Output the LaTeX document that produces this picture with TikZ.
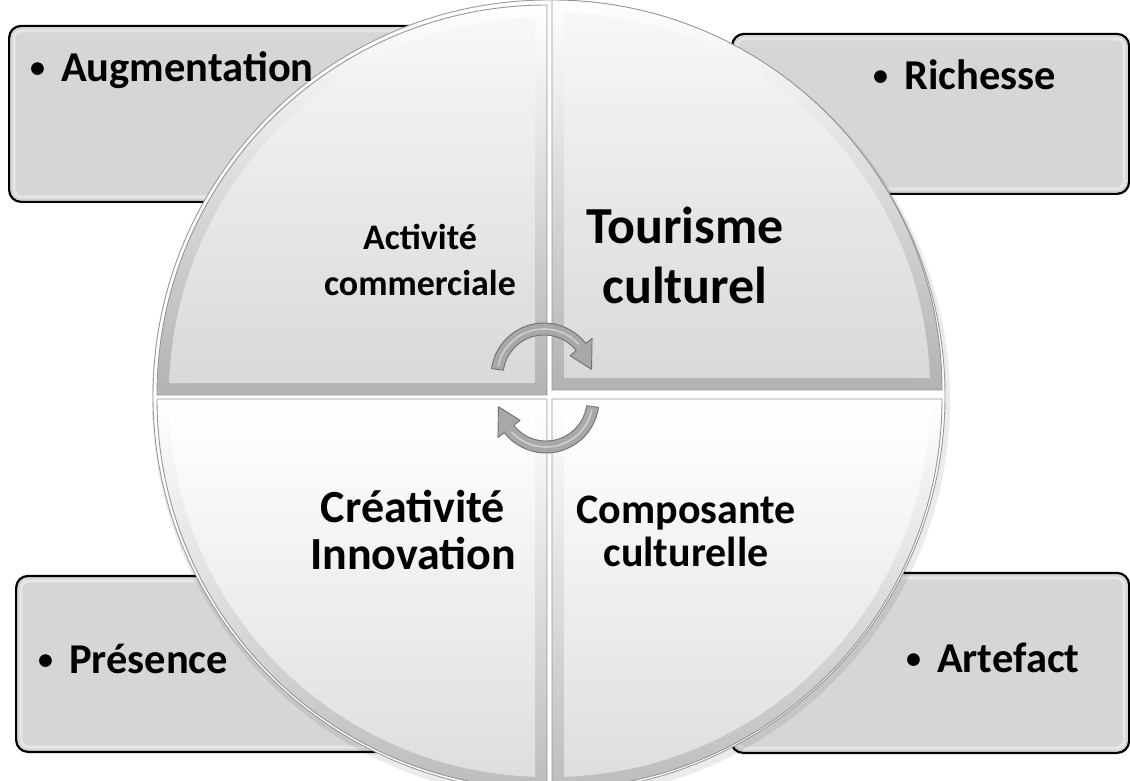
\documentclass[tikz,border=0pt]{standalone}
\usepackage{fontspec}
\setmainfont{Carlito}
\usetikzlibrary{calc}
\definecolor{boxgray}{RGB}{214,214,214}
\definecolor{arrowgray}{RGB}{168,168,168}
\definecolor{arrowedge}{RGB}{112,112,112}
\definecolor{qedge}{RGB}{150,150,150}
\newcommand\quadsector[4]{%
  \path[#3] (#1) -- ($(#1)+(#2:390)$) arc[start angle=#2, end angle=#2+90, radius=390] -- cycle;
  \path[#4] ($(#1)+(#2+45:17)$) -- ($(#1)+(#2+1.82:378)$) arc[start angle=#2+1.82, end angle=#2+88.18, radius=378] -- cycle;
  \draw[qline] (#1) -- ($(#1)+(#2:390)$) arc[start angle=#2, end angle=#2+90, radius=390] -- cycle;
}
\newcommand\cycarrow[2]{%
  \path[cyc] ($(#1)+(172+#2:53)$) arc[start angle=172+#2, end angle=38+#2, radius=53]
    -- ($(#1)+(38+#2:61)$) -- ($(#1)+(8+#2:48)$) -- ($(#1)+(38+#2:33)$) -- ($(#1)+(38+#2:41)$)
    arc[start angle=38+#2, end angle=172+#2, radius=41] -- cycle;
  \draw[cychl] ($(#1)+(168+#2:47)$) arc[start angle=168+#2, end angle=42+#2, radius=47];
}
\newcommand\bul{{\fontsize{30}{30}\selectfont\raisebox{4pt}{\textbullet}}\hspace{16pt}}
\begin{document}
\begin{tikzpicture}[x=1pt,y=1pt,
  box/.style={draw=black, line width=2.2pt, fill=boxgray, rounded corners=12pt, inner sep=0pt, anchor=south west},
  boxhl/.style={draw=white, draw opacity=0.4, line width=3pt, rounded corners=8pt},
  btxt/.style={font=\fontsize{42.5}{50}\selectfont\bfseries, inner sep=0pt, anchor=base west},
  ql/.style={inner sep=0pt, anchor=base},
  qline/.style={draw=qedge, line width=0.9pt},
  ringtop/.style={top color=white, bottom color=black!30},
  innertop/.style={top color=black!3, bottom color=black!15},
  ringbot/.style={top color=white, bottom color=black!26},
  innerbot/.style={top color=white, bottom color=black!13},
  cyc/.style={fill=arrowgray, draw=arrowedge, line width=0.9pt, line join=round},
  cychl/.style={draw=white, draw opacity=0.45, line width=1.6pt}]
\useasboundingbox (0,0) rectangle (1130,780);
\clip (0,0) rectangle (1130,780);
\fill[white] (0,0) rectangle (1130,780);

% boxes
\node[box, minimum width=540pt, minimum height=176pt] (bTL) at (8,577) {};
\node[box, minimum width=397pt, minimum height=160pt] (bTR) at (731,585) {};
\node[box, minimum width=545pt, minimum height=176pt] (bBL) at (15,27) {};
\node[box, minimum width=398pt, minimum height=180pt] (bBR) at (730,26) {};
\foreach \b in {bTL,bTR,bBL,bBR}
  \draw[boxhl] ($(\b.south west)+(6,6)$) rectangle ($(\b.north east)+(-6,-6)$);

% circle rim
\coordinate (C) at (549,384);
\fill[black, opacity=0.08] (551,380) circle (399);
\path[fill=white, draw=black!40, line width=0.9pt] (C) circle (396);

% quadrants
\coordinate (qTL) at (547,385);
\coordinate (qTR) at (552,390);
\coordinate (qBL) at (547,381);
\coordinate (qBR) at (552,381);
\quadsector{qTL}{90}{ringtop}{innertop}
\quadsector{qTR}{0}{ringtop}{innertop}
\quadsector{qBL}{180}{ringbot}{innerbot}
\quadsector{qBR}{270}{ringbot}{innerbot}

% cycle arrows
\coordinate (O1) at (544,404);
\coordinate (O2) at (546,380);
\cycarrow{O1}{0}
\cycarrow{O2}{180}

% box texts
\node[btxt] (tAug) at (30,698) {\bul Augmentation};
\node[btxt] (tRic) at (873,690) {\bul Richesse};
\node[btxt] (tPre) at (38,107) {\bul Présence};
\node[btxt] (tArt) at (906,108) {\bul Artefact};

% quadrant labels
\node[ql, font=\fontsize{36}{42}\selectfont\bfseries] (qa1) at (420,530) {Activité};
\node[ql, font=\fontsize{36}{42}\selectfont\bfseries] (qa2) at (420,484) {commerciale};
\node[ql, font=\fontsize{52}{60}\selectfont\bfseries] (qb1) at (685,536) {Tourisme};
\node[ql, font=\fontsize{52}{60}\selectfont\bfseries] (qb2) at (685,476) {culturel};
\node[ql, font=\fontsize{46}{54}\selectfont\bfseries] (qc1) at (413,258) {Créativité};
\node[ql, font=\fontsize{46}{54}\selectfont\bfseries] (qc2) at (413,211) {Innovation};
\node[ql, font=\fontsize{42}{50}\selectfont\bfseries] (qd1) at (686,257) {Composante};
\node[ql, font=\fontsize{42}{50}\selectfont\bfseries] (qd2) at (686,214) {culturelle};
\end{tikzpicture}
\end{document}
